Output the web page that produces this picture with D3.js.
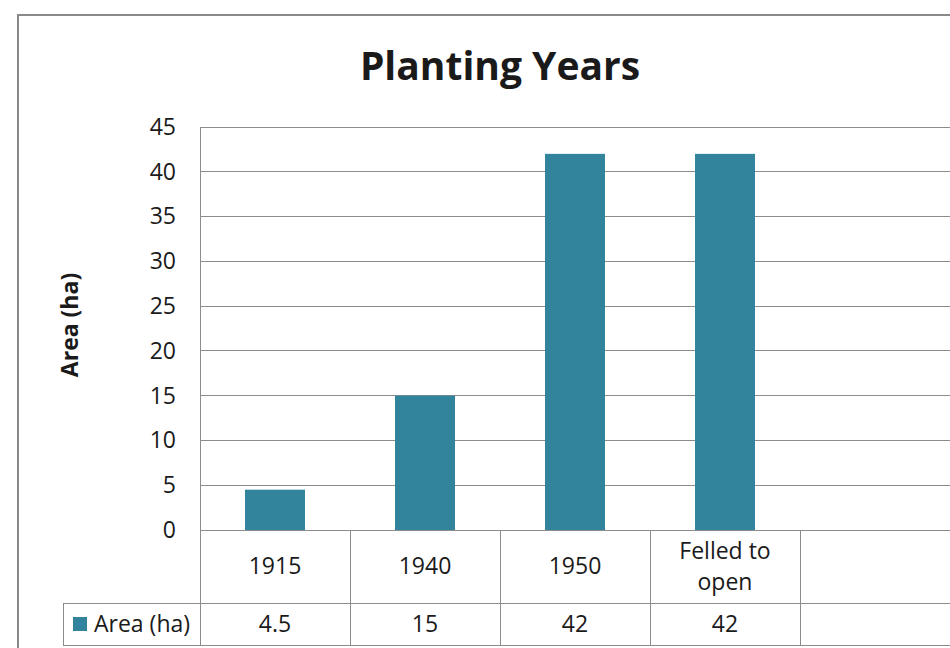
<!DOCTYPE html>
<html><head><meta charset="utf-8">
<script src="https://cdn.jsdelivr.net/npm/d3@7"></script>
<style>body{margin:0;background:#fff}svg{display:block}text{font-family:"Open Sans",Lato,sans-serif;fill:#1a1a1a}</style>
</head><body>
<svg id="c" width="950" height="648"></svg>
<script>
const categories = ["1915", "1940", "1950", "Felled to open", ""];
const values = [4.5, 15, 42, 42, null];
const yTicks = [0, 5, 10, 15, 20, 25, 30, 35, 40, 45];
const seriesName = "Area (ha)";
const title = "Planting Years";
const color = "#31849B";

const svg = d3.select("#c");
const pLeft = 200, pRight = 950, pTop = 127, pBottom = 530;
const row1 = 603, row2 = 645, legendLeft = 63;
const fs = 23;

svg.append("rect").attr("x", 18).attr("y", 15).attr("width", 1000).attr("height", 700)
  .attr("fill", "#fff").attr("stroke", "#898989").attr("stroke-width", 2);

svg.append("text").attr("x", 500).attr("y", 80).attr("text-anchor", "middle")
  .attr("font-size", 39).attr("font-weight", "bold").attr("fill", "#000").text(title);

const x = d3.scaleBand().domain(categories.map((d, i) => i)).range([pLeft, pRight]);
const y = d3.scaleLinear().domain([0, 45]).range([pBottom, pTop]);

// gridlines
svg.append("g").selectAll("line").data(yTicks).join("line")
  .attr("x1", pLeft).attr("x2", pRight).attr("y1", d => y(d)).attr("y2", d => y(d))
  .attr("stroke", "#8c8c8c").attr("stroke-width", 1).attr("shape-rendering", "crispEdges");

// y axis
const yAxis = d3.axisLeft(y).tickValues(yTicks).tickSize(0).tickPadding(24);
const ga = svg.append("g").attr("transform", `translate(${pLeft},0)`).call(yAxis);
ga.select(".domain").remove();
ga.selectAll("text").attr("font-size", fs).attr("font-family", "Open Sans").attr("fill", "#1a1a1a");

svg.append("line").attr("x1", pLeft).attr("x2", pLeft).attr("y1", pTop).attr("y2", row2)
  .attr("stroke", "#8c8c8c").attr("shape-rendering", "crispEdges");

// axis title
svg.append("text").attr("transform", `translate(78,325) rotate(-90)`)
  .attr("text-anchor", "middle").attr("font-size", 23).attr("font-weight", "bold").attr("fill", "#000").text(seriesName);

// bars
const bw = x.bandwidth() * 0.4;
svg.append("g").selectAll("rect").data(values.map((v, i) => ({v, i})).filter(d => d.v != null)).join("rect")
  .attr("x", d => x(d.i) + (x.bandwidth() - bw) / 2).attr("width", bw)
  .attr("y", d => y(d.v)).attr("height", d => y(0) - y(d.v)).attr("fill", color);

// data table
const tl = svg.append("g").attr("stroke", "#8c8c8c").attr("shape-rendering", "crispEdges");
tl.append("line").attr("x1", legendLeft).attr("x2", pRight).attr("y1", row1).attr("y2", row1);
tl.append("line").attr("x1", legendLeft).attr("x2", pRight).attr("y1", row2).attr("y2", row2);
tl.append("line").attr("x1", legendLeft).attr("x2", legendLeft).attr("y1", row1).attr("y2", row2);
categories.forEach((c, i) => {
  tl.append("line").attr("x1", x(i) + x.bandwidth()).attr("x2", x(i) + x.bandwidth())
    .attr("y1", pBottom).attr("y2", row2);
});

const catG = svg.append("g");
categories.forEach((c, i) => {
  const cx = x(i) + x.bandwidth() / 2;
  const words = c.split(" ");
  let lines = [c];
  if (c.length > 10) lines = [words.slice(0, 2).join(" "), words.slice(2).join(" ")];
  const lh = 31;
  const base = 574;
  lines.forEach((l, k) => {
    catG.append("text").attr("x", cx).attr("y", base + (k - (lines.length - 1) / 2) * lh)
      .attr("text-anchor", "middle").attr("font-size", fs).text(l);
  });
  if (values[i] != null) {
    catG.append("text").attr("x", cx).attr("y", 632)
      .attr("text-anchor", "middle").attr("font-size", fs).text(values[i]);
  }
});

svg.append("rect").attr("x", 73).attr("y", 617).attr("width", 14).attr("height", 14).attr("fill", color);
svg.append("text").attr("x", 94).attr("y", 632).attr("font-size", fs).text(seriesName);
</script>
</body></html>
